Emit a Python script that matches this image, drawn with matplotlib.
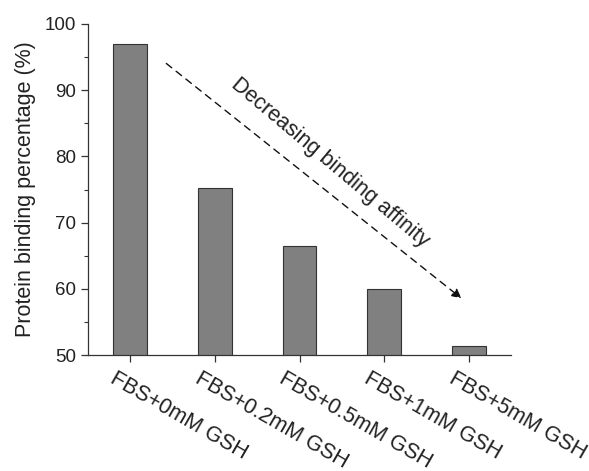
import matplotlib
matplotlib.use("Agg")
import matplotlib.pyplot as plt
import matplotlib.transforms as mtransforms
from matplotlib.ticker import MultipleLocator

# binding data
conditions = ["FBS+0mM GSH", "FBS+0.2mM GSH", "FBS+0.5mM GSH", "FBS+1mM GSH", "FBS+5mM GSH"]
binding = [97.0, 75.3, 66.5, 59.9, 51.4]

plt.rcParams['font.family'] = ['Liberation Sans', 'DejaVu Sans']

fig = plt.figure(figsize=(5.89, 4.71), dpi=100)
ax = fig.add_axes([88 / 589, 1 - 355 / 471, 423 / 589, 331 / 471])

x = list(range(len(conditions)))
ax.bar(x, binding, width=0.4, color='#808080', edgecolor='#333333', linewidth=0.8)

ax.set_xlim(-0.5, 4.5)
ax.set_ylim(50, 100)
ax.yaxis.set_major_locator(MultipleLocator(10))
ax.yaxis.set_minor_locator(MultipleLocator(5))
ax.spines['top'].set_visible(False)
ax.spines['right'].set_visible(False)
for s in ('left', 'bottom'):
    ax.spines[s].set_color('#333333')
    ax.spines[s].set_linewidth(0.9)
ax.tick_params(axis='both', direction='out', color='#333333', width=0.9, length=5,
               labelsize=13.5, labelcolor='#222222')
ax.tick_params(axis='y', which='minor', direction='out', length=3, width=0.8, color='#333333')

ax.set_xticks(x)
ax.set_xticklabels(conditions, rotation=-30, ha='left', va='top',
                   rotation_mode='anchor', fontsize=15.5, color='#222222')
shift = mtransforms.ScaledTranslation(-13 / 100, -1 / 100, fig.dpi_scale_trans)
for lbl in ax.get_xticklabels():
    lbl.set_transform(lbl.get_transform() + shift)

ax.set_ylabel("Protein binding percentage (%)", fontsize=15.5, color='#222222', labelpad=6)

# trend arrow
ax.annotate("", xy=(3.94, 58.3), xytext=(0.40, 94.3),
            arrowprops=dict(arrowstyle='-|>', linestyle=(0, (5, 4)), color='#111111',
                            lw=1.0, mutation_scale=14))
ax.text(2.36, 79.0, "Decreasing binding affinity", rotation=-40, rotation_mode='anchor',
        ha='center', va='center', fontsize=15.5, color='#222222')

fig.savefig("out.png", dpi=100)
